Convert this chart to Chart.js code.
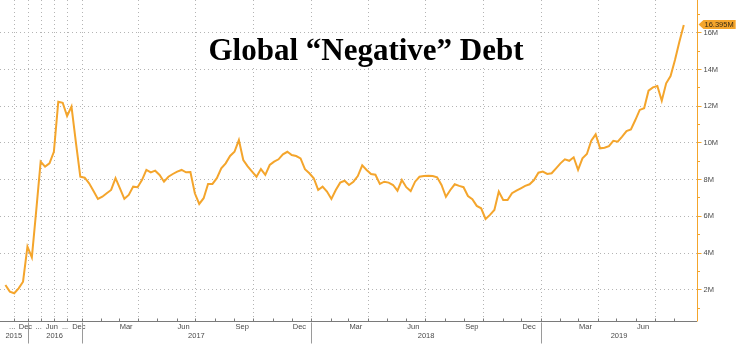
<!DOCTYPE html>
<html>
<head>
<meta charset="utf-8">
<title>Global Negative Debt</title>
<script src="https://cdn.jsdelivr.net/npm/chart.js@4"></script>
<style>
    html, body { margin: 0; padding: 0; background: #ffffff; }
</style>
</head>
<body>
<canvas class="debt_canvas" width="736" height="345"></canvas>
<script>
// month-end readings until the end of 2016, weekly (Fridays) after that
const monthEnds = [
    '2015-07-31', '2015-08-31', '2015-09-30', '2015-10-31', '2015-11-30', '2015-12-31',
    '2016-01-31', '2016-02-29', '2016-03-31', '2016-04-30', '2016-05-31', '2016-06-30',
    '2016-07-31', '2016-08-31', '2016-09-30', '2016-10-31', '2016-11-30', '2016-12-30'
];
const firstWeek = '2017-01-06';

// negative yielding debt outstanding
const debtValues = [
    2.23, 1.87, 1.78, 2.05, 2.41, 4.32, 3.74, 6.3, 8.95, 8.68,
    8.86, 9.49, 12.22, 12.16, 11.44, 11.95, 10.0, 8.13, 8.08, 7.77,
    7.35, 6.92, 7.04, 7.23, 7.41, 8.05, 7.5, 6.93, 7.14, 7.59,
    7.56, 7.95, 8.5, 8.37, 8.46, 8.23, 7.86, 8.13, 8.28, 8.41,
    8.5, 8.37, 8.39, 7.23, 6.65, 6.96, 7.74, 7.74, 8.05, 8.59,
    8.86, 9.26, 9.49, 10.13, 9.04, 8.7, 8.41, 8.13, 8.55, 8.23,
    8.77, 8.95, 9.08, 9.35, 9.49, 9.31, 9.26, 9.13, 8.54, 8.32,
    8.05, 7.41, 7.59, 7.32, 6.92, 7.41, 7.81, 7.91, 7.68, 7.86,
    8.17, 8.75, 8.5, 8.28, 8.24, 7.74, 7.86, 7.81, 7.68, 7.37,
    7.95, 7.56, 7.35, 7.86, 8.13, 8.17, 8.19, 8.17, 8.1, 7.68,
    7.04, 7.41, 7.72, 7.63, 7.56, 7.08, 6.9, 6.54, 6.41, 5.83,
    6.05, 6.32, 7.32, 6.86, 6.86, 7.23, 7.37, 7.5, 7.63, 7.72,
    7.95, 8.35, 8.41, 8.28, 8.32, 8.59, 8.86, 9.08, 9.0, 9.19,
    8.5, 9.13, 9.37, 10.09, 10.44, 9.68, 9.71, 9.8, 10.09, 10.04,
    10.31, 10.62, 10.71, 11.22, 11.77, 11.86, 12.82, 13.0, 13.07, 12.27,
    13.22, 13.62, 14.49, 15.49, 16.395
];

const yTicks = [2, 4, 6, 8, 10, 12, 14, 16];
const monthTicks = ['2015-09', '2015-12', '2016-03', '2016-06', '2016-09', '2016-12',
    '2017-03', '2017-06', '2017-09', '2017-12', '2018-03', '2018-06', '2018-09', '2018-12',
    '2019-03', '2019-06'];
const monthTickText = ['...', 'Dec', '...', 'Jun', '...', 'Dec', 'Mar', 'Jun', 'Sep', 'Dec',
    'Mar', 'Jun', 'Sep', 'Dec', 'Mar', 'Jun'];
const years = [2015, 2016, 2017, 2018, 2019];

const titleText = 'Global \u201CNegative\u201D Debt';
const lineColor = '#F4A52C';
const tickFont = '7.5px "Liberation Sans"';
const DAY = 86400000;

// build the date of every reading
const times = monthEnds.map(d => Date.parse(d));
const weekStart = Date.parse(firstWeek);
for (let k = 0; times.length < debtValues.length; k++) {
    times.push(weekStart + k * 7 * DAY);
}

// fractional reading index of a date (readings are evenly spaced on the axis)
function posOf(t) {
    const n = times.length;
    if (t <= times[0]) return (t - times[0]) / (times[1] - times[0]);
    for (let i = 0; i < n - 1; i++) {
        if (t < times[i + 1]) return i + (t - times[i]) / (times[i + 1] - times[i]);
    }
    return n - 1 + (t - times[n - 1]) / (times[n - 1] - times[n - 2]);
}

function monthStart(y, m) {
    return Date.UTC(y, m, 1);
}

const axisPlugin = {
    id: 'axisPlugin',
    beforeDatasetsDraw(chart) {
        const ctx = chart.ctx;
        const area = chart.chartArea;
        const xs = chart.scales.x;
        const ys = chart.scales.y;

        ctx.save();
        ctx.fillStyle = '#ffffff';
        ctx.fillRect(0, 0, chart.width, chart.height);

        // dotted grid
        ctx.strokeStyle = '#b4b4b4';
        ctx.lineWidth = 1;
        ctx.setLineDash([1, 3]);
        yTicks.forEach(v => {
            const y = Math.round(ys.getPixelForValue(v)) + 0.5;
            ctx.beginPath();
            ctx.moveTo(area.left, y);
            ctx.lineTo(area.right, y);
            ctx.stroke();
        });
        for (let yr = 2015; yr <= 2019; yr++) {
            for (let m = 0; m < 12; m += 3) {
                const t = monthStart(yr, m);
                if (t < times[0] || t > times[times.length - 1]) continue;
                const x = Math.round(xs.getPixelForValue(posOf(t))) + 0.5;
                ctx.beginPath();
                ctx.moveTo(x, area.top);
                ctx.lineTo(x, area.bottom);
                ctx.stroke();
            }
        }
        ctx.setLineDash([]);

        // title on a white plate
        ctx.font = 'bold 31px "Liberation Serif"';
        const tw = ctx.measureText(titleText).width;
        ctx.fillStyle = '#ffffff';
        ctx.fillRect(366 - tw / 2 - 8, 34, tw + 16, 33);
        ctx.fillStyle = '#000000';
        ctx.textAlign = 'center';
        ctx.textBaseline = 'alphabetic';
        ctx.fillText(titleText, 366, 60);
        ctx.restore();
    },
    afterDraw(chart) {
        const ctx = chart.ctx;
        const area = chart.chartArea;
        const xs = chart.scales.x;
        const ys = chart.scales.y;
        const bottom = Math.round(area.bottom) + 0.5;
        const right = Math.round(area.right) + 0.5;

        ctx.save();
        ctx.lineWidth = 1;

        // time axis
        ctx.strokeStyle = '#7a7a7a';
        ctx.beginPath();
        ctx.moveTo(area.left, bottom);
        ctx.lineTo(area.right, bottom);
        for (let yr = 2015; yr <= 2019; yr++) {
            for (let m = 0; m < 12; m++) {
                const t = monthStart(yr, m);
                if (t < times[0] || t > times[times.length - 1]) continue;
                if (m % 3 !== 0 && t < weekStart) continue;
                const x = Math.round(xs.getPixelForValue(posOf(t))) + 0.5;
                ctx.moveTo(x, bottom - 3);
                ctx.lineTo(x, bottom);
            }
        }
        ctx.stroke();

        ctx.font = tickFont;
        ctx.fillStyle = '#4a4a4a';
        ctx.textBaseline = 'middle';
        monthTicks.forEach((mt, i) => {
            const yr = +mt.slice(0, 4);
            const m = +mt.slice(5, 7) - 1;
            const x0 = xs.getPixelForValue(posOf(monthStart(yr, m)));
            const x1 = xs.getPixelForValue(posOf(monthStart(yr, m + 1)));
            const text = monthTickText[i];
            const w = ctx.measureText(text).width;
            if (x1 - x0 > w + 2) {
                ctx.textAlign = 'left';
                ctx.fillText(text, x0 + 1, bottom + 5.5);
            } else {
                ctx.textAlign = 'center';
                ctx.fillText(text, (x0 + x1) / 2, bottom + 5.5);
            }
        });

        // years, split by short separators
        ctx.textAlign = 'center';
        ctx.strokeStyle = '#9a9a9a';
        years.forEach(yr => {
            let x0 = xs.getPixelForValue(posOf(Date.UTC(yr, 0, 1)));
            let x1 = xs.getPixelForValue(posOf(Date.UTC(yr + 1, 0, 1)));
            if (x0 > area.left) {
                const sx = Math.round(x0) + 0.5;
                ctx.beginPath();
                ctx.moveTo(sx, bottom + 1);
                ctx.lineTo(sx, bottom + 22);
                ctx.stroke();
            }
            x0 = Math.max(x0, area.left);
            x1 = Math.min(x1, area.right);
            ctx.fillText(String(yr), (x0 + x1) / 2, bottom + 14.5);
        });

        // value axis on the right
        ctx.strokeStyle = lineColor;
        ctx.beginPath();
        ctx.moveTo(right, area.top);
        ctx.lineTo(right, bottom);
        for (let v = Math.ceil(ys.min); v <= ys.max; v++) {
            const y = Math.round(ys.getPixelForValue(v)) + 0.5;
            ctx.moveTo(right, y);
            ctx.lineTo(right + (v % 2 === 0 ? 4 : 2.5), y);
        }
        ctx.stroke();

        ctx.textAlign = 'left';
        ctx.fillStyle = '#4a4a4a';
        yTicks.forEach(v => {
            ctx.fillText(v + 'M', right + 6, ys.getPixelForValue(v) + 0.5);
        });

        // last value tag
        const last = debtValues[debtValues.length - 1];
        const ly = ys.getPixelForValue(last) - 0.5;
        const label = last.toFixed(3) + 'M';
        const lw = ctx.measureText(label).width;
        ctx.fillStyle = lineColor;
        ctx.beginPath();
        ctx.moveTo(right + 1, ly);
        ctx.lineTo(right + 6, ly - 4.5);
        ctx.lineTo(right + 9 + lw, ly - 4.5);
        ctx.lineTo(right + 9 + lw, ly + 4.5);
        ctx.lineTo(right + 6, ly + 4.5);
        ctx.closePath();
        ctx.fill();
        ctx.fillStyle = '#3a2c14';
        ctx.fillText(label, right + 7, ly + 0.5);
        ctx.restore();
    }
};

window.onload = function() {
    const ctx = document.querySelector('.debt_canvas');
    const debt_canvas = new Chart(ctx, {
        type: 'line',
        data: {
            datasets: [{
                label: 'Global Negative Debt',
                data: debtValues.map((v, i) => ({x: i, y: v})),
                borderColor: lineColor,
                borderWidth: 2,
                pointRadius: 0,
                tension: 0,
                fill: false
            }]
        },
        options: {
            responsive: false,
            animation: false,
            devicePixelRatio: 1,
            layout: {
                padding: {left: 0, top: 0, right: 39, bottom: 24}
            },
            plugins: {
                legend: {display: false},
                tooltip: {enabled: false}
            },
            scales: {
                x: {type: 'linear', min: -1.23, max: 157, display: false},
                y: {type: 'linear', min: 0.27, max: 17.76, display: false}
            }
        },
        plugins: [axisPlugin]
    });
};
</script>
</body>
</html>
